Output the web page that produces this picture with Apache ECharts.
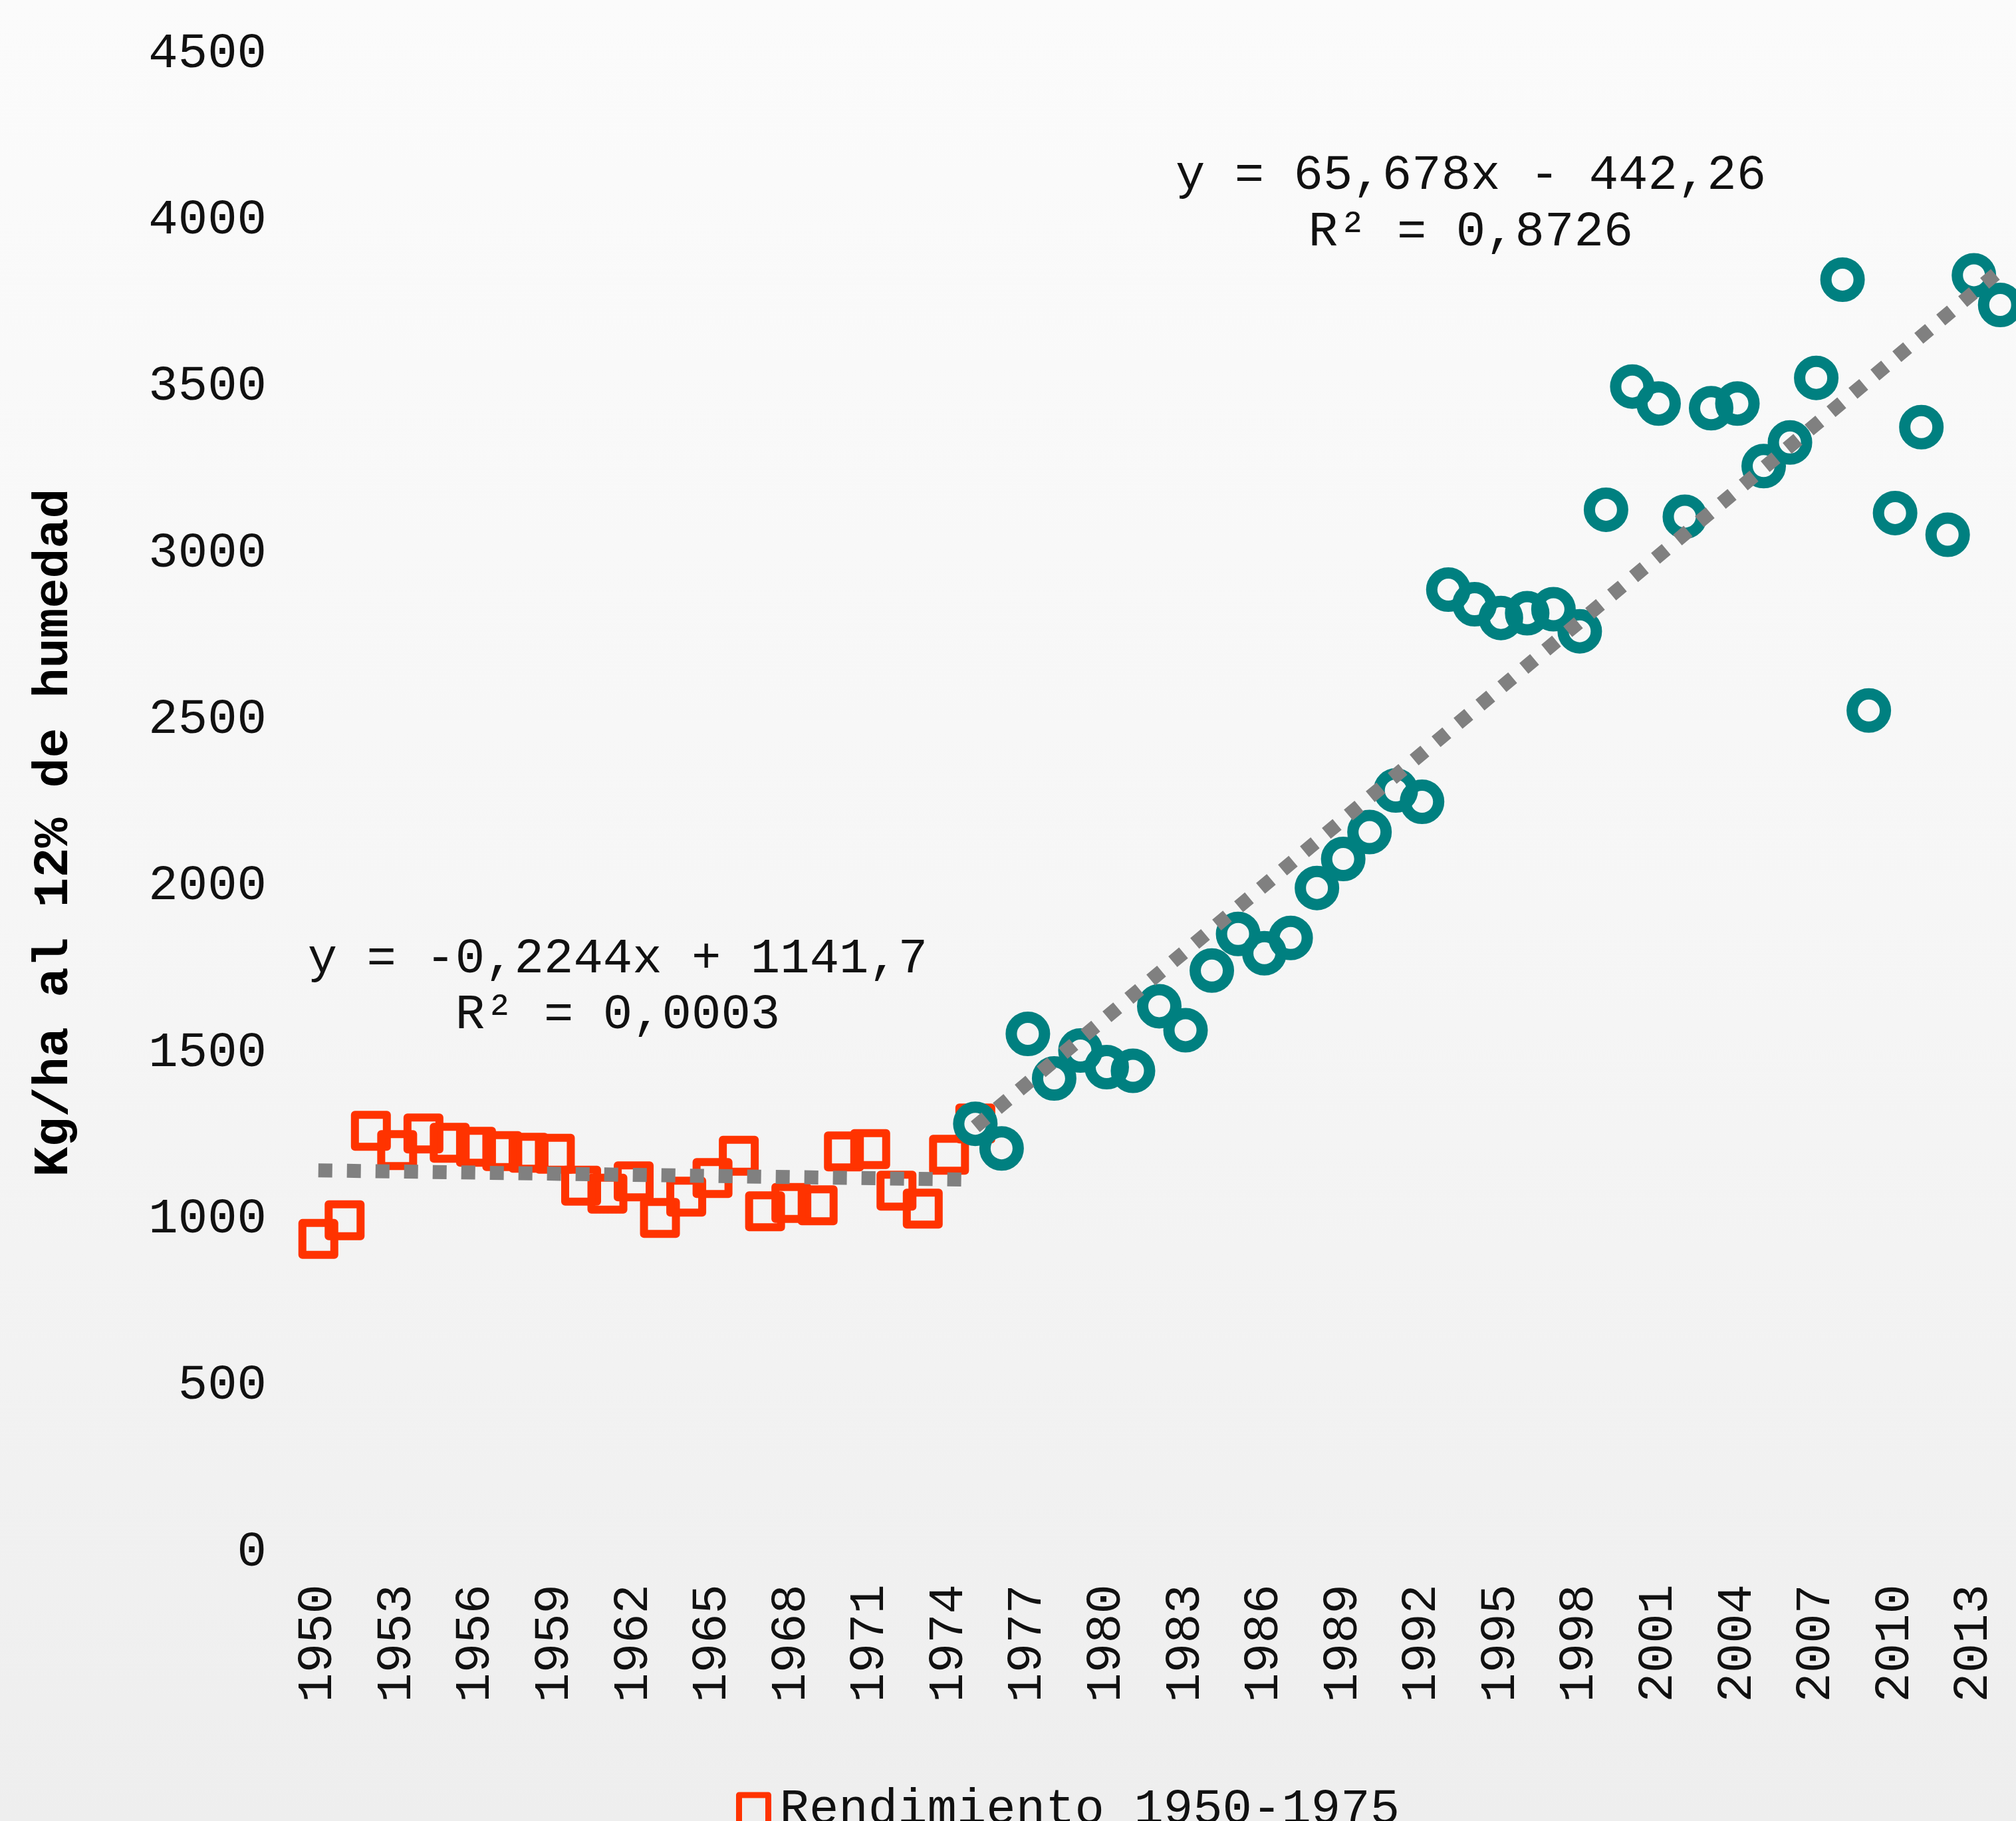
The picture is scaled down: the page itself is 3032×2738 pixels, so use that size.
<!DOCTYPE html>
<html>
<head>
<meta charset="utf-8">
<script src="https://cdn.jsdelivr.net/npm/echarts@6/dist/echarts.min.js"></script>
<style>
html, body { margin: 0; padding: 0; }
#chart {
  width: 3032px;
  height: 2738px;
  background: linear-gradient(to bottom, #fbfbfb 0%, #f6f6f6 50%, #eeeeee 100%);
}
</style>
</head>
<body>
<div id="chart"></div>
<script>
// años (eje x)
var years = ['1950', '1951', '1952', '1953', '1954', '1955', '1956', '1957', '1958', '1959',
  '1960', '1961', '1962', '1963', '1964', '1965', '1966', '1967', '1968', '1969',
  '1970', '1971', '1972', '1973', '1974', '1975', '1976', '1977', '1978', '1979',
  '1980', '1981', '1982', '1983', '1984', '1985', '1986', '1987', '1988', '1989',
  '1990', '1991', '1992', '1993', '1994', '1995', '1996', '1997', '1998', '1999',
  '2000', '2001', '2002', '2003', '2004', '2005', '2006', '2007', '2008', '2009',
  '2010', '2011', '2012', '2013', '2014']

// rendimiento kg/ha 1950-1975
var rend1950 = [941, 997, 1266, 1208, 1258, 1230, 1218, 1205, 1200, 1197,
  1101, 1077, 1114, 1004, 1068, 1124, 1191, 1024, 1049, 1042,
  1204, 1211, 1086, 1032, 1194, 1288]

// rendimiento kg/ha 1975-2014
var rend1975 = [1287, 1213, 1557, 1423, 1507, 1457, 1446, 1640, 1568, 1747,
  1857, 1799, 1845, 1995, 2082, 2163, 2288, 2254, 2891, 2847,
  2806, 2820, 2832, 2766, 3131, 3501, 3450, 3110, 3436, 3450,
  3262, 3333, 3527, 3822, 2528, 3121, 3379, 3056, 3835, 3746]

// lineas de tendencia (extremos)
var trendAYears = ['1950', '1975']
var trendAValues = [1147, 1119]
var trendBYears = ['1975', '2014']
var trendBValues = [1278, 3850]

var eqA = ['y = -0,2244x + 1141,7', 'R² = 0,0003']
var eqB = ['y = 65,678x - 442,26', 'R² = 0,8726']

var yName = 'Kg/ha al 12% de humedad'
var legendName = 'Rendimiento 1950-1975'

var FONT = 'Liberation Mono, Courier New, monospace'

function pairs(xs, vals) {
  return vals.map(function (v, i) { return [xs[i], v] })
}

var chart = echarts.init(document.getElementById('chart'))

chart.setOption({
  animation: false,
  backgroundColor: 'transparent',
  grid: { left: 459, right: 4, top: 81, bottom: 404, containLabel: false },
  legend: {
    data: [legendName],
    left: 1102,
    top: 2679,
    itemWidth: 44,
    itemHeight: 44,
    icon: 'rect',
    itemStyle: { color: 'rgba(0,0,0,0)', borderColor: '#FF3300', borderWidth: 9, opacity: 1 },
    textStyle: { fontFamily: FONT, fontSize: 74, color: '#111', padding: [0, 0, 0, 12] }
  },
  xAxis: {
    type: 'category',
    data: years,
    boundaryGap: true,
    axisLine: { show: false },
    axisTick: { show: false },
    splitLine: { show: false },
    axisLabel: {
      interval: 2,
      rotate: 90,
      margin: 48,
      fontFamily: FONT,
      fontSize: 74,
      color: '#111'
    }
  },
  yAxis: {
    type: 'value',
    min: 0,
    max: 4500,
    interval: 500,
    axisLine: { show: false },
    axisTick: { show: false },
    splitLine: { show: false },
    axisLabel: {
      margin: 58,
      fontFamily: FONT,
      fontSize: 74,
      color: '#111',
      formatter: function (v) { return String(v) }
    }
  },
  graphic: [
    {
      type: 'text',
      x: 82, y: 1252,
      rotation: Math.PI / 2,
      style: {
        text: yName,
        font: 'bold 75px ' + FONT,
        fill: '#000',
        align: 'center',
        verticalAlign: 'middle'
      }
    },
    {
      type: 'text',
      x: 929, y: 1400,
      style: {
        text: eqA.join('\n'),
        font: '74px ' + FONT,
        lineHeight: 84,
        fill: '#111',
        align: 'center',
        verticalAlign: 'top'
      }
    },
    {
      type: 'text',
      x: 2212, y: 222,
      style: {
        text: eqB.join('\n'),
        font: '74px ' + FONT,
        lineHeight: 85,
        fill: '#111',
        align: 'center',
        verticalAlign: 'top'
      }
    }
  ],
  series: [
    {
      name: legendName,
      type: 'scatter',
      symbol: 'rect',
      symbolSize: 48,
      z: 2,
      itemStyle: { color: 'rgba(0,0,0,0)', borderColor: '#FF3300', borderWidth: 12, borderJoin: 'round', opacity: 1 },
      data: pairs(years, rend1950)
    },
    {
      name: 'Rendimiento 1975-2014',
      type: 'scatter',
      symbol: 'circle',
      symbolSize: 50,
      z: 2,
      itemStyle: { color: 'rgba(0,0,0,0)', borderColor: '#008080', borderWidth: 17, opacity: 1 },
      data: pairs(years.slice(25), rend1975)
    },
    {
      name: 'tendencia 1950-1975',
      type: 'line',
      symbol: 'none',
      silent: true,
      z: 3,
      lineStyle: { color: '#808080', width: 21, type: [21, 22], cap: 'butt', opacity: 1 },
      data: pairs(trendAYears, trendAValues)
    },
    {
      name: 'tendencia 1975-2014',
      type: 'line',
      symbol: 'none',
      silent: true,
      z: 3,
      lineStyle: { color: '#808080', width: 21, type: [21, 22], cap: 'butt', opacity: 1 },
      data: pairs(trendBYears, trendBValues)
    }
  ]
})
</script>
</body>
</html>
